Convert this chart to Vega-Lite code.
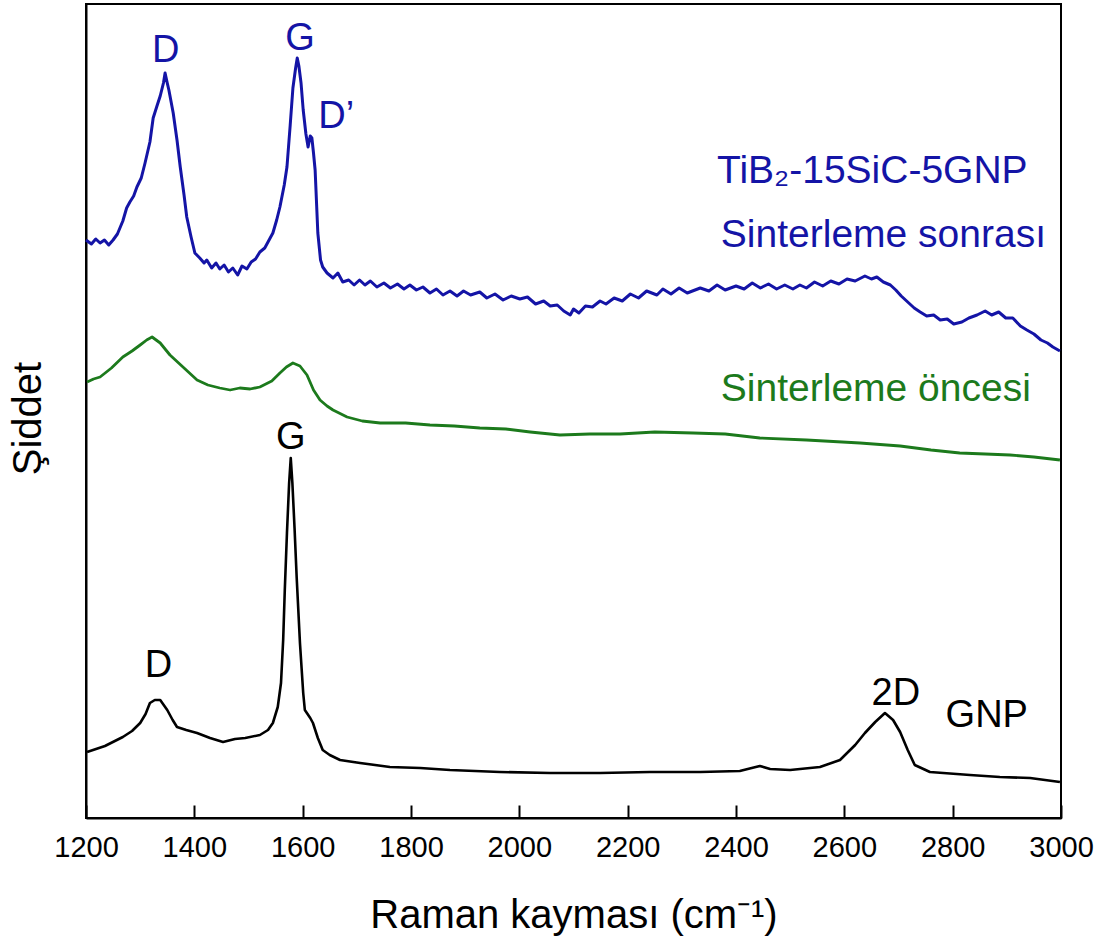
{
  "$schema": "https://vega.github.io/schema/vega-lite/v6.json",
  "width": 975,
  "height": 814,
  "autosize": "none",
  "padding": {"left": 86, "top": 4, "right": 45, "bottom": 125},
  "background": "white",
  "config": {
    "view": {"stroke": "black", "strokeWidth": 2},
    "font": "Liberation Sans",
    "axis": {"grid": false, "domainColor": "black", "domainWidth": 2, "tickColor": "black", "tickWidth": 2, "labelColor": "black", "titleColor": "black", "labelFont": "Liberation Sans", "titleFont": "Liberation Sans", "titleFontWeight": "normal"}
  },
  "resolve": {"axis": {"x": "independent"}},
  "datasets": {
    "spectra": [
      {"series": "after", "x": 1200, "y": 578}, {"series": "after", "x": 1210, "y": 574}, {"series": "after", "x": 1218, "y": 579}, {"series": "after", "x": 1226, "y": 575}, {"series": "after", "x": 1234, "y": 578}, {"series": "after", "x": 1242, "y": 573}, {"series": "after", "x": 1250, "y": 578}, {"series": "after", "x": 1258, "y": 584}, {"series": "after", "x": 1268, "y": 597}, {"series": "after", "x": 1275, "y": 610}, {"series": "after", "x": 1281, "y": 616}, {"series": "after", "x": 1288, "y": 622}, {"series": "after", "x": 1294, "y": 631}, {"series": "after", "x": 1302, "y": 640}, {"series": "after", "x": 1309, "y": 655}, {"series": "after", "x": 1318, "y": 676}, {"series": "after", "x": 1324, "y": 700}, {"series": "after", "x": 1331, "y": 712}, {"series": "after", "x": 1337, "y": 722}, {"series": "after", "x": 1343, "y": 735}, {"series": "after", "x": 1346, "y": 745}, {"series": "after", "x": 1350, "y": 735}, {"series": "after", "x": 1353, "y": 728}, {"series": "after", "x": 1361, "y": 705}, {"series": "after", "x": 1368, "y": 678}, {"series": "after", "x": 1374, "y": 651}, {"series": "after", "x": 1381, "y": 623}, {"series": "after", "x": 1386, "y": 601}, {"series": "after", "x": 1394, "y": 581}, {"series": "after", "x": 1401, "y": 565}, {"series": "after", "x": 1410, "y": 560}, {"series": "after", "x": 1418, "y": 555}, {"series": "after", "x": 1423, "y": 558}, {"series": "after", "x": 1432, "y": 550}, {"series": "after", "x": 1440, "y": 555}, {"series": "after", "x": 1447, "y": 549}, {"series": "after", "x": 1455, "y": 553}, {"series": "after", "x": 1463, "y": 546}, {"series": "after", "x": 1471, "y": 550}, {"series": "after", "x": 1480, "y": 543}, {"series": "after", "x": 1488, "y": 552}, {"series": "after", "x": 1497, "y": 549}, {"series": "after", "x": 1505, "y": 556}, {"series": "after", "x": 1513, "y": 559}, {"series": "after", "x": 1521, "y": 566}, {"series": "after", "x": 1530, "y": 570}, {"series": "after", "x": 1536, "y": 576}, {"series": "after", "x": 1545, "y": 585}, {"series": "after", "x": 1552, "y": 598}, {"series": "after", "x": 1558, "y": 611}, {"series": "after", "x": 1566, "y": 633}, {"series": "after", "x": 1571, "y": 651}, {"series": "after", "x": 1577, "y": 693}, {"series": "after", "x": 1582, "y": 730}, {"series": "after", "x": 1587, "y": 750}, {"series": "after", "x": 1590, "y": 760}, {"series": "after", "x": 1593, "y": 752}, {"series": "after", "x": 1597, "y": 735}, {"series": "after", "x": 1601, "y": 708}, {"series": "after", "x": 1606, "y": 684}, {"series": "after", "x": 1610, "y": 671}, {"series": "after", "x": 1614, "y": 682}, {"series": "after", "x": 1617, "y": 680}, {"series": "after", "x": 1620, "y": 665}, {"series": "after", "x": 1623, "y": 648}, {"series": "after", "x": 1628, "y": 585}, {"series": "after", "x": 1633, "y": 558}, {"series": "after", "x": 1637, "y": 551}, {"series": "after", "x": 1645, "y": 545}, {"series": "after", "x": 1656, "y": 540}, {"series": "after", "x": 1665, "y": 545}, {"series": "after", "x": 1674, "y": 536}, {"series": "after", "x": 1685, "y": 538}, {"series": "after", "x": 1695, "y": 533}, {"series": "after", "x": 1705, "y": 538}, {"series": "after", "x": 1715, "y": 533}, {"series": "after", "x": 1725, "y": 537}, {"series": "after", "x": 1737, "y": 531}, {"series": "after", "x": 1750, "y": 535}, {"series": "after", "x": 1762, "y": 530}, {"series": "after", "x": 1775, "y": 534}, {"series": "after", "x": 1787, "y": 529}, {"series": "after", "x": 1798, "y": 533}, {"series": "after", "x": 1810, "y": 528}, {"series": "after", "x": 1822, "y": 531}, {"series": "after", "x": 1835, "y": 525}, {"series": "after", "x": 1847, "y": 529}, {"series": "after", "x": 1859, "y": 523}, {"series": "after", "x": 1872, "y": 527}, {"series": "after", "x": 1885, "y": 522}, {"series": "after", "x": 1897, "y": 527}, {"series": "after", "x": 1910, "y": 523}, {"series": "after", "x": 1927, "y": 526}, {"series": "after", "x": 1940, "y": 520}, {"series": "after", "x": 1955, "y": 524}, {"series": "after", "x": 1970, "y": 518}, {"series": "after", "x": 1985, "y": 522}, {"series": "after", "x": 2001, "y": 519}, {"series": "after", "x": 2015, "y": 521}, {"series": "after", "x": 2030, "y": 514}, {"series": "after", "x": 2045, "y": 517}, {"series": "after", "x": 2057, "y": 512}, {"series": "after", "x": 2070, "y": 513}, {"series": "after", "x": 2082, "y": 507}, {"series": "after", "x": 2094, "y": 503}, {"series": "after", "x": 2100, "y": 509}, {"series": "after", "x": 2110, "y": 505}, {"series": "after", "x": 2122, "y": 512}, {"series": "after", "x": 2135, "y": 511}, {"series": "after", "x": 2149, "y": 517}, {"series": "after", "x": 2160, "y": 514}, {"series": "after", "x": 2175, "y": 520}, {"series": "after", "x": 2190, "y": 517}, {"series": "after", "x": 2205, "y": 524}, {"series": "after", "x": 2220, "y": 520}, {"series": "after", "x": 2235, "y": 527}, {"series": "after", "x": 2254, "y": 523}, {"series": "after", "x": 2265, "y": 529}, {"series": "after", "x": 2280, "y": 524}, {"series": "after", "x": 2295, "y": 530}, {"series": "after", "x": 2310, "y": 525}, {"series": "after", "x": 2334, "y": 530}, {"series": "after", "x": 2350, "y": 527}, {"series": "after", "x": 2365, "y": 533}, {"series": "after", "x": 2380, "y": 528}, {"series": "after", "x": 2400, "y": 532}, {"series": "after", "x": 2415, "y": 529}, {"series": "after", "x": 2430, "y": 535}, {"series": "after", "x": 2445, "y": 530}, {"series": "after", "x": 2460, "y": 534}, {"series": "after", "x": 2475, "y": 529}, {"series": "after", "x": 2490, "y": 533}, {"series": "after", "x": 2505, "y": 529}, {"series": "after", "x": 2518, "y": 533}, {"series": "after", "x": 2530, "y": 530}, {"series": "after", "x": 2545, "y": 536}, {"series": "after", "x": 2560, "y": 532}, {"series": "after", "x": 2575, "y": 537}, {"series": "after", "x": 2590, "y": 534}, {"series": "after", "x": 2605, "y": 539}, {"series": "after", "x": 2620, "y": 537}, {"series": "after", "x": 2638, "y": 542}, {"series": "after", "x": 2650, "y": 539}, {"series": "after", "x": 2660, "y": 541}, {"series": "after", "x": 2672, "y": 536}, {"series": "after", "x": 2685, "y": 533}, {"series": "after", "x": 2695, "y": 528}, {"series": "after", "x": 2705, "y": 522}, {"series": "after", "x": 2717, "y": 516}, {"series": "after", "x": 2729, "y": 510}, {"series": "after", "x": 2740, "y": 506}, {"series": "after", "x": 2752, "y": 502}, {"series": "after", "x": 2765, "y": 503}, {"series": "after", "x": 2777, "y": 498}, {"series": "after", "x": 2790, "y": 499}, {"series": "after", "x": 2802, "y": 494}, {"series": "after", "x": 2817, "y": 496}, {"series": "after", "x": 2830, "y": 500}, {"series": "after", "x": 2845, "y": 503}, {"series": "after", "x": 2860, "y": 507}, {"series": "after", "x": 2872, "y": 503}, {"series": "after", "x": 2885, "y": 506}, {"series": "after", "x": 2898, "y": 500}, {"series": "after", "x": 2911, "y": 500}, {"series": "after", "x": 2925, "y": 492}, {"series": "after", "x": 2937, "y": 488}, {"series": "after", "x": 2950, "y": 484}, {"series": "after", "x": 2963, "y": 478}, {"series": "after", "x": 2975, "y": 475}, {"series": "after", "x": 2985, "y": 471}, {"series": "after", "x": 2998, "y": 467},
      {"series": "before", "x": 1202, "y": 436}, {"series": "before", "x": 1214, "y": 439}, {"series": "before", "x": 1226, "y": 441}, {"series": "before", "x": 1247, "y": 450}, {"series": "before", "x": 1268, "y": 461}, {"series": "before", "x": 1285, "y": 467}, {"series": "before", "x": 1300, "y": 473}, {"series": "before", "x": 1312, "y": 478}, {"series": "before", "x": 1322, "y": 481}, {"series": "before", "x": 1337, "y": 475}, {"series": "before", "x": 1355, "y": 463}, {"series": "before", "x": 1379, "y": 451}, {"series": "before", "x": 1405, "y": 438}, {"series": "before", "x": 1425, "y": 433}, {"series": "before", "x": 1447, "y": 430}, {"series": "before", "x": 1466, "y": 428}, {"series": "before", "x": 1484, "y": 430}, {"series": "before", "x": 1503, "y": 429}, {"series": "before", "x": 1521, "y": 431}, {"series": "before", "x": 1543, "y": 437}, {"series": "before", "x": 1558, "y": 445}, {"series": "before", "x": 1570, "y": 451}, {"series": "before", "x": 1582, "y": 455}, {"series": "before", "x": 1595, "y": 452}, {"series": "before", "x": 1608, "y": 443}, {"series": "before", "x": 1620, "y": 428}, {"series": "before", "x": 1632, "y": 418}, {"series": "before", "x": 1645, "y": 412}, {"series": "before", "x": 1656, "y": 408}, {"series": "before", "x": 1682, "y": 401}, {"series": "before", "x": 1710, "y": 397}, {"series": "before", "x": 1743, "y": 395}, {"series": "before", "x": 1790, "y": 395}, {"series": "before", "x": 1835, "y": 393}, {"series": "before", "x": 1880, "y": 392}, {"series": "before", "x": 1927, "y": 390}, {"series": "before", "x": 1975, "y": 389}, {"series": "before", "x": 2020, "y": 386}, {"series": "before", "x": 2075, "y": 383}, {"series": "before", "x": 2130, "y": 384}, {"series": "before", "x": 2186, "y": 384}, {"series": "before", "x": 2250, "y": 386}, {"series": "before", "x": 2321, "y": 385}, {"series": "before", "x": 2380, "y": 384}, {"series": "before", "x": 2444, "y": 380}, {"series": "before", "x": 2530, "y": 378}, {"series": "before", "x": 2629, "y": 375}, {"series": "before", "x": 2703, "y": 372}, {"series": "before", "x": 2760, "y": 368}, {"series": "before", "x": 2813, "y": 365}, {"series": "before", "x": 2860, "y": 364}, {"series": "before", "x": 2906, "y": 363}, {"series": "before", "x": 2950, "y": 361}, {"series": "before", "x": 2998, "y": 358},
      {"series": "gnp", "x": 1202, "y": 66}, {"series": "gnp", "x": 1235, "y": 72}, {"series": "gnp", "x": 1268, "y": 81}, {"series": "gnp", "x": 1285, "y": 87}, {"series": "gnp", "x": 1300, "y": 95}, {"series": "gnp", "x": 1310, "y": 104}, {"series": "gnp", "x": 1318, "y": 115}, {"series": "gnp", "x": 1327, "y": 118}, {"series": "gnp", "x": 1337, "y": 118}, {"series": "gnp", "x": 1350, "y": 108}, {"series": "gnp", "x": 1360, "y": 98}, {"series": "gnp", "x": 1368, "y": 91}, {"series": "gnp", "x": 1385, "y": 88}, {"series": "gnp", "x": 1405, "y": 85}, {"series": "gnp", "x": 1429, "y": 80}, {"series": "gnp", "x": 1453, "y": 76}, {"series": "gnp", "x": 1475, "y": 79}, {"series": "gnp", "x": 1494, "y": 80}, {"series": "gnp", "x": 1521, "y": 83}, {"series": "gnp", "x": 1536, "y": 88}, {"series": "gnp", "x": 1545, "y": 95}, {"series": "gnp", "x": 1554, "y": 111}, {"series": "gnp", "x": 1560, "y": 135}, {"series": "gnp", "x": 1564, "y": 178}, {"series": "gnp", "x": 1567, "y": 228}, {"series": "gnp", "x": 1571, "y": 285}, {"series": "gnp", "x": 1575, "y": 335}, {"series": "gnp", "x": 1578, "y": 360}, {"series": "gnp", "x": 1581, "y": 335}, {"series": "gnp", "x": 1585, "y": 290}, {"series": "gnp", "x": 1589, "y": 240}, {"series": "gnp", "x": 1595, "y": 175}, {"series": "gnp", "x": 1601, "y": 125}, {"series": "gnp", "x": 1604, "y": 108}, {"series": "gnp", "x": 1614, "y": 100}, {"series": "gnp", "x": 1619, "y": 95}, {"series": "gnp", "x": 1628, "y": 80}, {"series": "gnp", "x": 1637, "y": 68}, {"series": "gnp", "x": 1650, "y": 63}, {"series": "gnp", "x": 1669, "y": 58}, {"series": "gnp", "x": 1706, "y": 55}, {"series": "gnp", "x": 1761, "y": 51}, {"series": "gnp", "x": 1817, "y": 50}, {"series": "gnp", "x": 1872, "y": 48}, {"series": "gnp", "x": 1964, "y": 46}, {"series": "gnp", "x": 2057, "y": 45}, {"series": "gnp", "x": 2149, "y": 45}, {"series": "gnp", "x": 2241, "y": 46}, {"series": "gnp", "x": 2334, "y": 46}, {"series": "gnp", "x": 2407, "y": 47}, {"series": "gnp", "x": 2429, "y": 50}, {"series": "gnp", "x": 2444, "y": 52}, {"series": "gnp", "x": 2463, "y": 49}, {"series": "gnp", "x": 2500, "y": 48}, {"series": "gnp", "x": 2555, "y": 51}, {"series": "gnp", "x": 2592, "y": 58}, {"series": "gnp", "x": 2620, "y": 73}, {"series": "gnp", "x": 2638, "y": 85}, {"series": "gnp", "x": 2657, "y": 96}, {"series": "gnp", "x": 2675, "y": 105}, {"series": "gnp", "x": 2690, "y": 98}, {"series": "gnp", "x": 2703, "y": 86}, {"series": "gnp", "x": 2717, "y": 68}, {"series": "gnp", "x": 2730, "y": 53}, {"series": "gnp", "x": 2758, "y": 46}, {"series": "gnp", "x": 2832, "y": 43}, {"series": "gnp", "x": 2887, "y": 41}, {"series": "gnp", "x": 2943, "y": 40}, {"series": "gnp", "x": 2998, "y": 36}
    ],
    "labels": [
      {"series": "after", "kind": "center", "label": "D", "x": 1347, "y": 756},
      {"series": "after", "kind": "center", "label": "G", "x": 1595, "y": 768},
      {"series": "after", "kind": "center", "label": "D’", "x": 1662, "y": 690},
      {"series": "after", "kind": "left", "label": "TiB₂-15SiC-5GNP", "x": 2365, "y": 635},
      {"series": "after", "kind": "left", "label": "Sinterleme sonrası", "x": 2372, "y": 571},
      {"series": "before", "kind": "left", "label": "Sinterleme öncesi", "x": 2372, "y": 417},
      {"series": "gnp", "kind": "center", "label": "G", "x": 1578, "y": 369},
      {"series": "gnp", "kind": "center", "label": "D", "x": 1334, "y": 141},
      {"series": "gnp", "kind": "center", "label": "2D", "x": 2695, "y": 113},
      {"series": "gnp", "kind": "center", "label": "GNP", "x": 2863, "y": 91}
    ]
  },
  "layer": [
    {
      "data": {"name": "spectra"},
      "mark": {"type": "line", "strokeJoin": "round"},
      "encoding": {
        "x": {"field": "x", "type": "quantitative", "scale": {"domain": [1200, 3000], "nice": false, "zero": false},
          "axis": {"orient": "bottom", "values": [1200, 1400, 1600, 1800, 2000, 2200, 2400, 2600, 2800, 3000], "format": "d", "ticks": false, "labelPadding": 38, "labelBaseline": "alphabetic", "labelFontSize": 29, "labelFlush": false, "title": "Raman kayması (cm⁻¹)", "titleFontSize": 40, "titleBaseline": "alphabetic", "titleY": 109}},
        "y": {"field": "y", "type": "quantitative", "scale": {"domain": [0, 814], "nice": false},
          "axis": {"ticks": false, "labels": false, "title": "Şiddet", "titleFontSize": 40, "titleBaseline": "alphabetic", "titleX": -46, "titleY": 414}},
        "color": {"field": "series", "type": "nominal", "scale": {"domain": ["after", "before", "gnp"], "range": ["#1414a6", "#1c7a1c", "#000000"]}, "legend": null},
        "strokeWidth": {"field": "series", "type": "nominal", "scale": {"domain": ["after", "before", "gnp"], "range": [3, 2.6, 2.6]}, "legend": null},
        "order": {"field": "x", "type": "quantitative"}
      }
    },
    {
      "data": {"name": "labels"},
      "transform": [{"filter": "datum.kind === 'center'"}],
      "mark": {"type": "text", "align": "center", "baseline": "alphabetic", "fontSize": 38, "font": "Liberation Sans"},
      "encoding": {
        "x": {"field": "x", "type": "quantitative",
          "axis": {"orient": "bottom", "values": [1200, 1400, 1600, 1800, 2000, 2200, 2400, 2600, 2800, 3000], "offset": -13, "domain": false, "labels": false, "ticks": true, "tickSize": 13, "title": null}},
        "y": {"field": "y", "type": "quantitative"},
        "text": {"field": "label"},
        "color": {"field": "series", "type": "nominal", "legend": null}
      }
    },
    {
      "data": {"name": "labels"},
      "transform": [{"filter": "datum.kind === 'left'"}],
      "mark": {"type": "text", "align": "left", "baseline": "alphabetic", "fontSize": 39, "font": "Liberation Sans"},
      "encoding": {
        "x": {"field": "x", "type": "quantitative", "axis": null},
        "y": {"field": "y", "type": "quantitative"},
        "text": {"field": "label"},
        "color": {"field": "series", "type": "nominal", "legend": null}
      }
    }
  ]
}
